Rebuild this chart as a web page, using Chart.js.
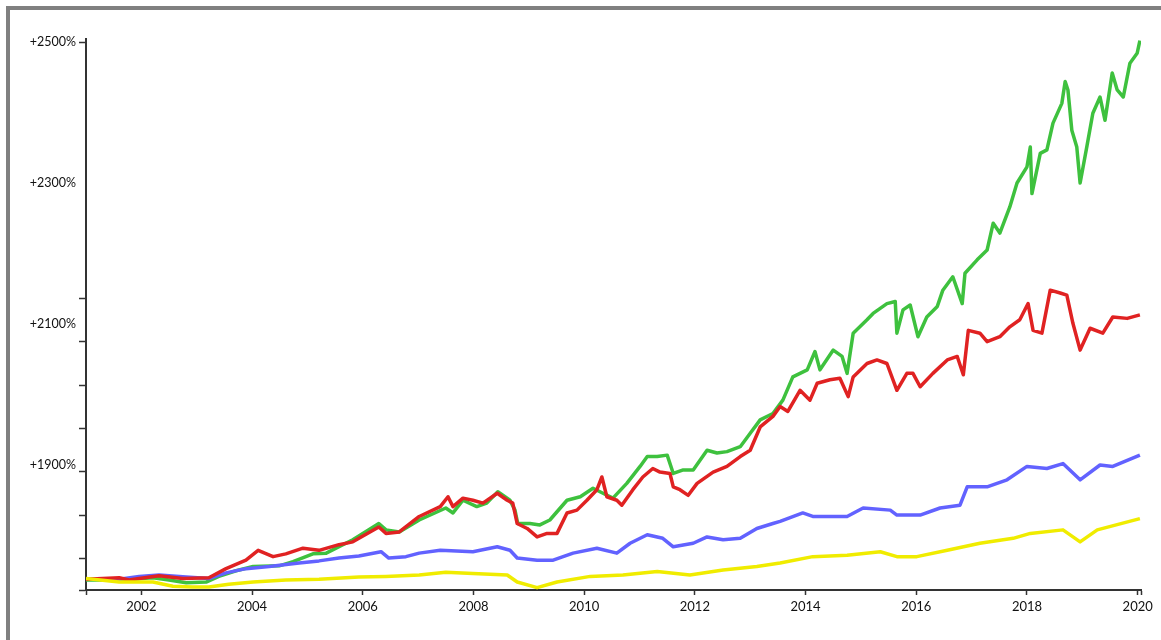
<!DOCTYPE html>
<html>
<head>
<meta charset="utf-8">
<script src="https://cdn.jsdelivr.net/npm/chart.js@4.4.0/dist/chart.umd.min.js"></script>
<style>
  body { margin: 0; background: #fff; overflow: hidden; }
  #frame { position: absolute; left: 6px; top: 6px; width: 1200px; height: 700px; border: 4px solid #808080; }
  #canvas1 { position: absolute; left: 0; top: 0; }
</style>
</head>
<body>
<div id="frame"></div>
<canvas id="canvas1" width="1161" height="640"></canvas>
<script>
// donnees (annee decimale, valeur en %)
let greenYears = [2001.00, 2001.60, 2002.21, 2002.50, 2002.81, 2003.17, 2003.40, 2003.71, 2004.02, 2004.49, 2004.74, 2005.10, 2005.34, 2005.82, 2006.29, 2006.42, 2006.66, 2007.02, 2007.50, 2007.63, 2007.81, 2008.06, 2008.24, 2008.44, 2008.66, 2008.75, 2008.80, 2009.02, 2009.20, 2009.38, 2009.69, 2009.93, 2010.16, 2010.34, 2010.52, 2010.77, 2011.01, 2011.14, 2011.32, 2011.50, 2011.61, 2011.79, 2011.97, 2012.22, 2012.40, 2012.58, 2012.82, 2013.00, 2013.18, 2013.41, 2013.59, 2013.77, 2014.03, 2014.17, 2014.26, 2014.50, 2014.66, 2014.75, 2014.86, 2015.11, 2015.22, 2015.47, 2015.62, 2015.65, 2015.76, 2015.89, 2016.03, 2016.19, 2016.38, 2016.48, 2016.66, 2016.83, 2016.88, 2017.10, 2017.28, 2017.39, 2017.51, 2017.69, 2017.82, 2018.00, 2018.06, 2018.09, 2018.24, 2018.36, 2018.47, 2018.63, 2018.69, 2018.74, 2018.81, 2018.90, 2018.96, 2019.08, 2019.19, 2019.32, 2019.41, 2019.54, 2019.63, 2019.74, 2019.86, 2019.99, 2020.04];
let greenValues = [1737, 1737, 1740, 1737, 1733, 1734, 1742, 1750, 1756, 1757, 1763, 1774, 1775, 1794, 1817, 1808, 1805, 1822, 1839, 1832, 1850, 1841, 1846, 1862, 1850, 1836, 1817, 1817, 1815, 1822, 1850, 1855, 1867, 1860, 1853, 1874, 1898, 1912, 1912, 1914, 1888, 1893, 1893, 1921, 1917, 1919, 1926, 1945, 1964, 1973, 1992, 2025, 2035, 2061, 2035, 2063, 2054, 2030, 2087, 2106, 2115, 2129, 2132, 2087, 2120, 2127, 2082, 2110, 2125, 2148, 2167, 2129, 2172, 2191, 2205, 2243, 2229, 2266, 2300, 2323, 2351, 2285, 2342, 2347, 2385, 2413, 2444, 2432, 2375, 2351, 2300, 2351, 2399, 2422, 2389, 2456, 2432, 2422, 2470, 2484, 2502];

let redYears = [2001.00, 2001.60, 2001.78, 2001.96, 2002.32, 2002.75, 2003.22, 2003.53, 2003.89, 2004.11, 2004.38, 2004.61, 2004.92, 2005.21, 2005.57, 2005.82, 2006.29, 2006.42, 2006.66, 2007.02, 2007.40, 2007.54, 2007.63, 2007.81, 2007.99, 2008.17, 2008.43, 2008.61, 2008.71, 2008.79, 2008.97, 2009.15, 2009.33, 2009.51, 2009.69, 2009.87, 2010.05, 2010.23, 2010.32, 2010.41, 2010.59, 2010.68, 2010.88, 2011.06, 2011.24, 2011.37, 2011.55, 2011.61, 2011.73, 2011.88, 2012.04, 2012.33, 2012.58, 2012.82, 2013.00, 2013.18, 2013.41, 2013.54, 2013.68, 2013.90, 2014.08, 2014.21, 2014.44, 2014.62, 2014.77, 2014.86, 2015.11, 2015.29, 2015.47, 2015.65, 2015.83, 2015.94, 2016.07, 2016.30, 2016.56, 2016.74, 2016.85, 2016.94, 2017.15, 2017.28, 2017.51, 2017.69, 2017.87, 2018.02, 2018.11, 2018.27, 2018.42, 2018.60, 2018.72, 2018.83, 2018.96, 2019.14, 2019.37, 2019.55, 2019.81, 2020.04];
let redValues = [1738, 1740, 1737, 1739, 1743, 1739, 1740, 1753, 1765, 1779, 1770, 1774, 1782, 1779, 1787, 1791, 1812, 1803, 1805, 1827, 1841, 1855, 1841, 1853, 1850, 1846, 1860, 1850, 1846, 1817, 1810, 1798, 1803, 1803, 1832, 1836, 1850, 1865, 1883, 1855, 1850, 1843, 1865, 1883, 1895, 1890, 1888, 1869, 1865, 1857, 1874, 1890, 1898, 1912, 1921, 1954, 1969, 1983, 1976, 2006, 1992, 2016, 2021, 2023, 1997, 2025, 2044, 2049, 2044, 2006, 2030, 2030, 2011, 2030, 2049, 2054, 2028, 2091, 2087, 2075, 2082, 2096, 2106, 2129, 2091, 2087, 2148, 2144, 2141, 2101, 2063, 2094, 2087, 2110, 2108, 2113];

let blueYears = [2001.00, 2001.60, 2001.96, 2002.32, 2002.81, 2003.22, 2003.53, 2003.89, 2004.31, 2004.85, 2005.21, 2005.57, 2005.93, 2006.33, 2006.47, 2006.78, 2007.02, 2007.40, 2007.99, 2008.43, 2008.66, 2008.79, 2009.15, 2009.44, 2009.80, 2010.23, 2010.59, 2010.83, 2011.14, 2011.42, 2011.61, 2011.97, 2012.22, 2012.51, 2012.82, 2013.12, 2013.41, 2013.54, 2013.95, 2014.13, 2014.75, 2015.04, 2015.53, 2015.65, 2016.07, 2016.43, 2016.79, 2016.92, 2017.28, 2017.64, 2018.00, 2018.36, 2018.65, 2018.96, 2019.32, 2019.55, 2020.04];
let blueValues = [1738, 1738, 1742, 1744, 1741, 1739, 1747, 1753, 1756, 1761, 1764, 1768, 1771, 1777, 1768, 1770, 1775, 1779, 1777, 1784, 1779, 1768, 1765, 1765, 1775, 1782, 1775, 1789, 1801, 1796, 1784, 1789, 1798, 1794, 1796, 1810, 1817, 1820, 1832, 1827, 1827, 1839, 1836, 1829, 1829, 1839, 1843, 1869, 1869, 1879, 1898, 1895, 1902, 1879, 1900, 1898, 1914];

let yellowYears = [2001.00, 2001.60, 2002.21, 2002.57, 2002.93, 2003.22, 2003.58, 2004.02, 2004.61, 2005.21, 2005.93, 2006.42, 2007.02, 2007.50, 2007.99, 2008.61, 2008.79, 2009.15, 2009.51, 2010.11, 2010.70, 2011.32, 2011.91, 2012.51, 2013.12, 2013.54, 2014.13, 2014.75, 2015.35, 2015.65, 2016.01, 2016.56, 2017.15, 2017.75, 2018.06, 2018.65, 2018.96, 2019.27, 2020.04];
let yellowValues = [1739, 1734, 1734, 1728, 1727, 1727, 1731, 1734, 1737, 1738, 1741, 1742, 1744, 1748, 1746, 1744, 1734, 1726, 1734, 1742, 1744, 1749, 1744, 1751, 1756, 1761, 1770, 1772, 1777, 1770, 1770, 1779, 1789, 1796, 1803, 1808, 1791, 1808, 1824];

// axes
let yLabelValues = [1900, 2100, 2300, 2500];
let yTickMarks = [1722.7, 1767.5, 1828.9, 1890.3, 1951.7, 2013.1, 2074.5, 2135.9];
let xLabelYears = [2002, 2004, 2006, 2008, 2010, 2012, 2014, 2016, 2018, 2020];
let xStart = 2001;
let xEnd = 2020.06;
let yMin = 1722.7;
let yMax = 2504.3;

function toPoints(years, values) {
    let pts = [];
    for (let i = 0; i < years.length; i++) {
        pts.push({x: years[i], y: values[i]});
    }
    return pts;
}

function line(label, years, values, color, order) {
    return {
        label: label,
        data: toPoints(years, values),
        borderColor: color,
        borderWidth: 3.5,
        borderJoinStyle: 'round',
        pointRadius: 0,
        fill: false,
        tension: 0,
        order: order
    };
}

let canvas1 = document.getElementById("canvas1");

let myChart1 = new Chart(canvas1, {
    type: 'line',
    data: {
        datasets: [
            line('yellow', yellowYears, yellowValues, '#f0ec00', 0),
            line('red', redYears, redValues, '#e02222', 1),
            line('blue', blueYears, blueValues, '#6262ff', 2),
            line('green', greenYears, greenValues, '#3ec13e', 3)
        ]
    },
    options: {
        responsive: false,
        animation: false,
        layout: { padding: { left: 0, top: 39, right: 20, bottom: 10 } },
        plugins: {
            legend: { display: false },
            tooltip: { enabled: false }
        },
        scales: {
            x: {
                type: 'linear',
                min: xStart,
                max: xEnd,
                afterBuildTicks: function(scale) {
                    let vals = [xStart].concat(xLabelYears, [xEnd]);
                    scale.ticks = vals.map(v => ({value: v}));
                },
                afterFit: function(scale) { scale.height = 40; },
                border: { display: true, color: '#333', width: 2 },
                grid: { drawOnChartArea: false, drawTicks: true, tickLength: 5, tickColor: '#333', tickWidth: 1.5 },
                ticks: {
                    autoSkip: false,
                    maxRotation: 0,
                    padding: 4,
                    color: '#111',
                    font: { family: 'Lato', size: 13 },
                    callback: function(value) {
                        return xLabelYears.includes(value) ? String(value) : '';
                    }
                }
            },
            y: {
                type: 'linear',
                min: yMin,
                max: yMax,
                afterBuildTicks: function(scale) {
                    let vals = yLabelValues.concat(yTickMarks).sort((a, b) => a - b);
                    scale.ticks = vals.map(v => ({value: v}));
                },
                afterFit: function(scale) { scale.width = 86; },
                border: { display: true, color: '#333', width: 2 },
                grid: {
                    drawOnChartArea: false,
                    drawTicks: true,
                    tickLength: 7,
                    tickWidth: 1.5,
                    tickColor: function(ctx) {
                        let v = ctx.tick ? ctx.tick.value : 0;
                        if (v === 1900 || v === 2100 || v === 2300) return 'rgba(0,0,0,0)';
                        return '#333';
                    }
                },
                ticks: {
                    autoSkip: false,
                    padding: 3,
                    color: '#111',
                    font: { family: 'Lato', size: 12.5 },
                    callback: function(value) {
                        return yLabelValues.includes(value) ? '+' + value + '%' : '';
                    }
                }
            }
        }
    }
});
</script>
</body>
</html>
